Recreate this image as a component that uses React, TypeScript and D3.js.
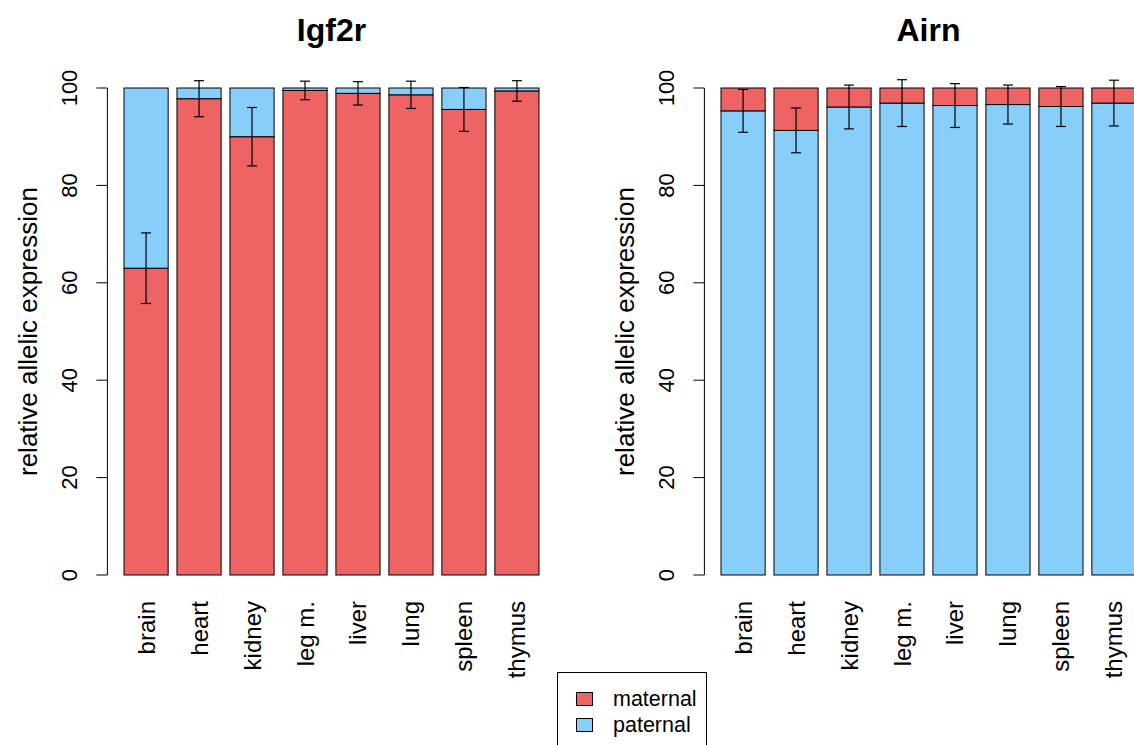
import React from "react";
import * as d3 from "d3";

const tissues = ["brain", "heart", "kidney", "leg m.", "liver", "lung", "spleen", "thymus"];

// Igf2r: maternal share (%) with its standard deviation
const igf2rMaternal = [63.0, 97.8, 90.0, 99.5, 98.9, 98.6, 95.6, 99.4];
const igf2rSd = [7.25, 3.7, 6.0, 1.9, 2.4, 2.8, 4.5, 2.1];

// Airn: paternal share (%) with its standard deviation
const airnPaternal = [95.3, 91.3, 96.1, 96.9, 96.4, 96.6, 96.2, 96.9];
const airnSd = [4.4, 4.6, 4.5, 4.8, 4.5, 4.0, 4.1, 4.7];

const yTicks = [0, 20, 40, 60, 80, 100];
const legendItems = ["maternal", "paternal"];

const RED = "#EE6363";
const BLUE = "#87CEFA";
const FONT = "'Liberation Sans', Arial, Helvetica, sans-serif";

const W = 1134;
const H = 745;

const y = d3.scaleLinear().domain([0, 100]).range([575, 88]);

type PanelProps = {
  title: string;
  left: number;
  bottomValues: number[];
  sds: number[];
  bottomColor: string;
  topColor: string;
};

function Panel({ title, left, bottomValues, sds, bottomColor, topColor }: PanelProps) {
  // barplot-style coordinates: width 1, space 0.2, 4% padding on each side
  const n = tissues.length;
  const lo = 0.2;
  const hi = n * 1.2;
  const pad = (hi - lo) * 0.04;
  const x = d3
    .scaleLinear()
    .domain([lo - pad, hi + pad])
    .range([left, left + 448.2]);
  const axisX = x(lo - pad);
  const center = (x(lo - pad) + x(hi + pad)) / 2;

  return (
    <g>
      <text
        x={center}
        y={41}
        textAnchor="middle"
        fontFamily={FONT}
        fontWeight="bold"
        fontSize={32}
      >
        {title}
      </text>

      {tissues.map((t, i) => {
        const x0 = x(lo + i * 1.2);
        const x1 = x(lo + i * 1.2 + 1);
        const v = bottomValues[i];
        const cx = (x0 + x1) / 2;
        const eTop = y(v + sds[i]);
        const eBot = y(v - sds[i]);
        return (
          <g key={t}>
            <rect x={x0} y={y(v)} width={x1 - x0} height={y(0) - y(v)} fill={bottomColor} stroke="#000" strokeWidth={1} />
            <rect x={x0} y={y(100)} width={x1 - x0} height={y(v) - y(100)} fill={topColor} stroke="#000" strokeWidth={1} />
            <line x1={cx} x2={cx} y1={eTop} y2={eBot} stroke="#000" strokeWidth={1.2} />
            <line x1={cx - 5} x2={cx + 5} y1={eTop} y2={eTop} stroke="#000" strokeWidth={1.2} />
            <line x1={cx - 5} x2={cx + 5} y1={eBot} y2={eBot} stroke="#000" strokeWidth={1.2} />
            <text
              transform={`translate(${cx + 8.5},601) rotate(-90)`}
              textAnchor="end"
              fontFamily={FONT}
              fontSize={24}
            >
              {t}
            </text>
          </g>
        );
      })}

      {/* y axis */}
      <line x1={axisX} x2={axisX} y1={y(0)} y2={y(100)} stroke="#000" strokeWidth={1} />
      {yTicks.map((v) => (
        <g key={v}>
          <line x1={axisX - 11} x2={axisX} y1={y(v)} y2={y(v)} stroke="#000" strokeWidth={1} />
          <text
            transform={`translate(${axisX - 30},${y(v)}) rotate(-90)`}
            textAnchor="middle"
            fontFamily={FONT}
            fontSize={22}
          >
            {v}
          </text>
        </g>
      ))}
      <text
        transform={`translate(${axisX - 70},${(y(0) + y(100)) / 2}) rotate(-90)`}
        textAnchor="middle"
        fontFamily={FONT}
        fontSize={26}
      >
        relative allelic expression
      </text>
    </g>
  );
}

export default function App() {
  const legendColors = [RED, BLUE];
  return (
    <svg
      width={W}
      height={H}
      style={{ position: "fixed", left: 0, top: 0, background: "#fff" }}
    >
      <rect x={0} y={0} width={W} height={H} fill="#fff" />
      <Panel title="Igf2r" left={107.4} bottomValues={igf2rMaternal} sds={igf2rSd} bottomColor={RED} topColor={BLUE} />
      <Panel title="Airn" left={704.4} bottomValues={airnPaternal} sds={airnSd} bottomColor={BLUE} topColor={RED} />

      <rect x={557.5} y={672.5} width={149} height={90} fill="#fff" stroke="#000" strokeWidth={1} />
      {legendItems.map((name, i) => (
        <g key={name}>
          <rect x={576.5} y={692.5 + i * 26} width={16} height={13} fill={legendColors[i]} stroke="#000" strokeWidth={1} />
          <text x={613} y={706 + i * 26} fontFamily={FONT} fontSize={21.5}>
            {name}
          </text>
        </g>
      ))}
    </svg>
  );
}
